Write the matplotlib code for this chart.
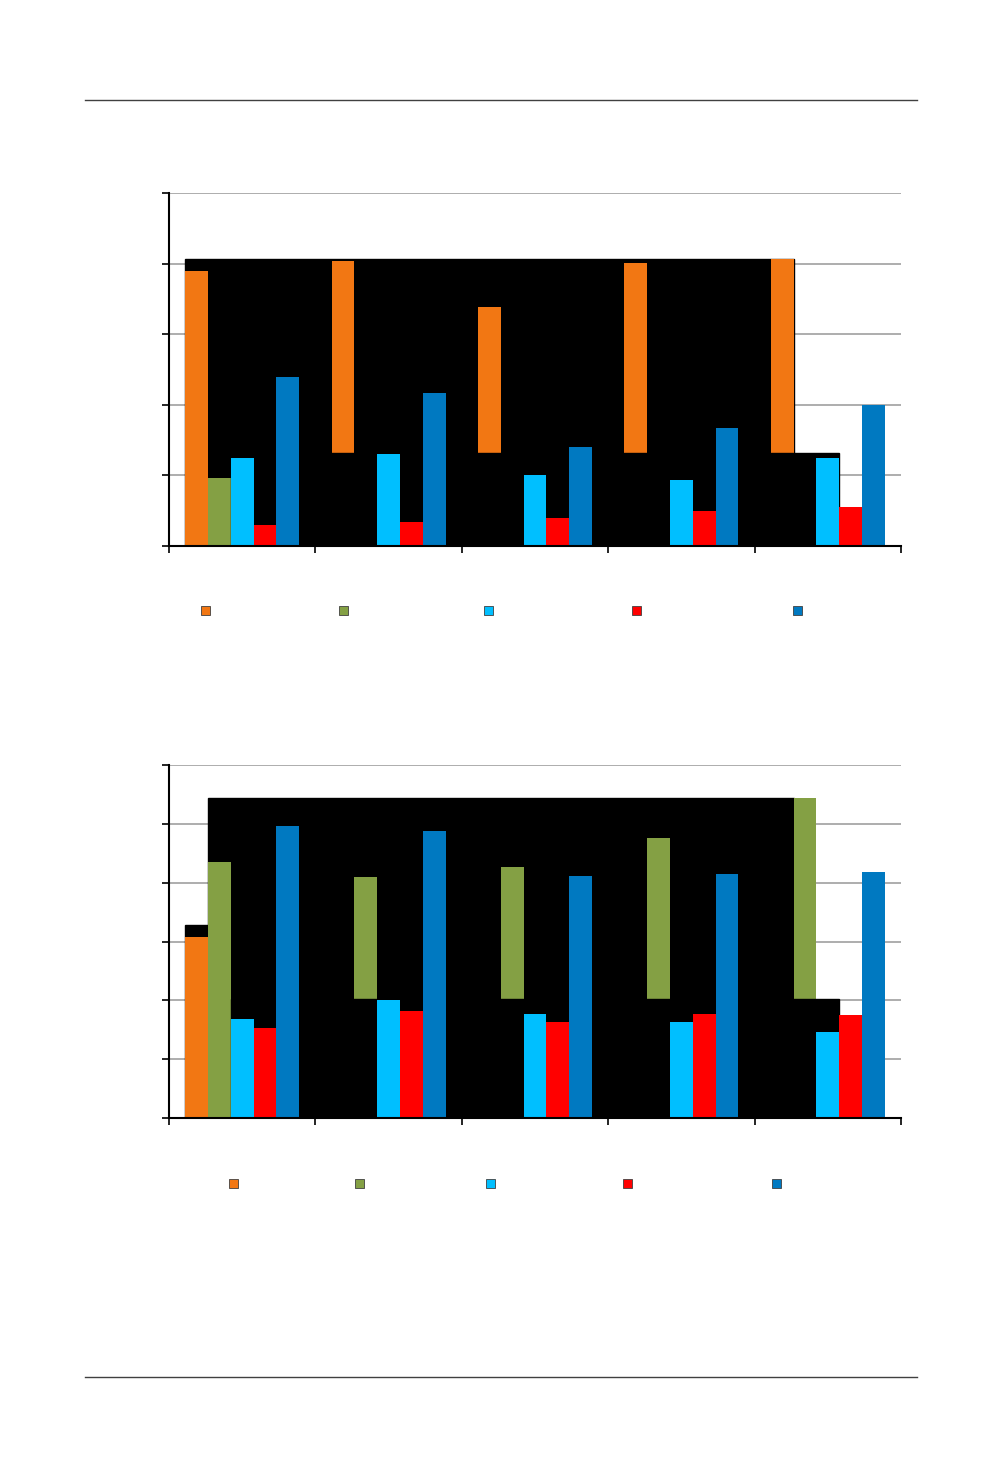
import matplotlib
matplotlib.use("Agg")
import matplotlib.pyplot as plt
from matplotlib.patches import Rectangle
from matplotlib.lines import Line2D
import numpy as np

colors = ["#F27713", "#84A044", "#00BFFF", "#FF0000", "#0079C1"]
n_groups = 5

# chart 1 values (orange, green, cyan, red, blue), scale 0..5
c1_orange = [3.90, 4.04, 3.39, 4.01, 4.07]
c1_green = [0.96, 0.0, 0.0, 0.0, 0.0]
c1_cyan = [1.25, 1.30, 1.00, 0.93, 1.25]
c1_red = [0.30, 0.34, 0.40, 0.50, 0.55]
c1_blue = [2.39, 2.17, 1.40, 1.67, 2.00]

# chart 2 values, scale 0..6
c2_orange = [3.08, 0.0, 0.0, 0.0, 0.0]
c2_green = [4.35, 4.10, 4.27, 4.76, 5.44]
c2_cyan = [1.68, 2.00, 1.77, 1.63, 1.46]
c2_red = [1.53, 1.82, 1.63, 1.77, 1.75]
c2_blue = [4.97, 4.88, 4.12, 4.15, 4.18]

# black blocks over the plots: (top value, low cover level)
c1_black_top = 4.07
c1_black_low = 1.32
c2_black_top = 5.44
c2_black_step = 3.28
c2_black_low = 2.02

W = 0.156  # bar width in category units

fig = plt.figure(figsize=(10.02, 14.75), dpi=100)


def setup(ax, ymax, nticks):
    ax.set_xlim(-0.5, n_groups - 0.5)
    ax.set_ylim(0, ymax)
    ax.set_yticks(np.linspace(0, ymax, nticks + 1))
    ax.set_yticklabels([])
    ax.set_xticks(np.arange(-0.5, n_groups, 1.0))
    ax.set_xticklabels([])
    ax.tick_params(axis="y", direction="out", length=5, width=1.2, color="black")
    ax.tick_params(axis="x", direction="out", length=5, width=1.2, color="black")
    for s in ["top", "right"]:
        ax.spines[s].set_visible(False)
    for s in ["left", "bottom"]:
        ax.spines[s].set_linewidth(1.5)
        ax.spines[s].set_zorder(6)
    for yv in np.linspace(0, ymax, nticks + 1)[1:]:
        ax.axhline(yv, color="#A0A0A0", lw=1.2, zorder=0)


def bars(ax, vals, idx, z):
    x = np.arange(n_groups) + (idx - 2) * W
    ax.bar(x, vals, width=W, color=colors[idx], zorder=z, linewidth=0)


# ---- chart 1
ax1 = fig.add_axes([169 / 1002, 929 / 1475, 732 / 1002, 353 / 1475])
setup(ax1, 5, 5)
ax1.add_patch(Rectangle((-2.5 * W, 0), 4 + W, c1_black_top, color="black", zorder=1))
bars(ax1, c1_orange, 0, 2)
bars(ax1, c1_green, 1, 2)
ax1.add_patch(Rectangle((-0.5 * W, 0), 4 + W, c1_black_low, color="black", zorder=3))
bars(ax1, c1_cyan, 2, 4)
bars(ax1, c1_red, 3, 4)
bars(ax1, c1_blue, 4, 4)

# ---- chart 2
ax2 = fig.add_axes([169 / 1002, 357 / 1475, 732 / 1002, 353 / 1475])
setup(ax2, 6, 6)
ax2.add_patch(Rectangle((-1.5 * W, 0), 4, c2_black_top, color="black", zorder=1))
ax2.add_patch(Rectangle((-2.5 * W, 0), W, c2_black_step, color="black", zorder=1))
bars(ax2, c2_orange, 0, 2)
bars(ax2, c2_green, 1, 2)
ax2.add_patch(Rectangle((-0.5 * W, 0), 4 + W, c2_black_low, color="black", zorder=3))
bars(ax2, c2_cyan, 2, 4)
bars(ax2, c2_red, 3, 4)
bars(ax2, c2_blue, 4, 4)

# legend squares (no text)
leg1_x = [205, 343, 488, 636, 797]
leg2_x = [233, 359, 490, 627, 776]
for lx, yy in [(leg1_x, 610), (leg2_x, 1183)]:
    for i, px in enumerate(lx):
        fig.add_artist(Rectangle(((px - 4.5) / 1002, (1475 - yy - 4.5) / 1475),
                                 9 / 1002, 9 / 1475, facecolor=colors[i],
                                 edgecolor="#404040", lw=0.6,
                                 transform=fig.transFigure))

# page header / footer rules
for yy in [100, 1377]:
    fig.add_artist(Line2D([85 / 1002, 917 / 1002], [(1475 - yy) / 1475] * 2,
                          color="#404040", lw=1.0, transform=fig.transFigure))

fig.savefig("out.png", dpi=100)
